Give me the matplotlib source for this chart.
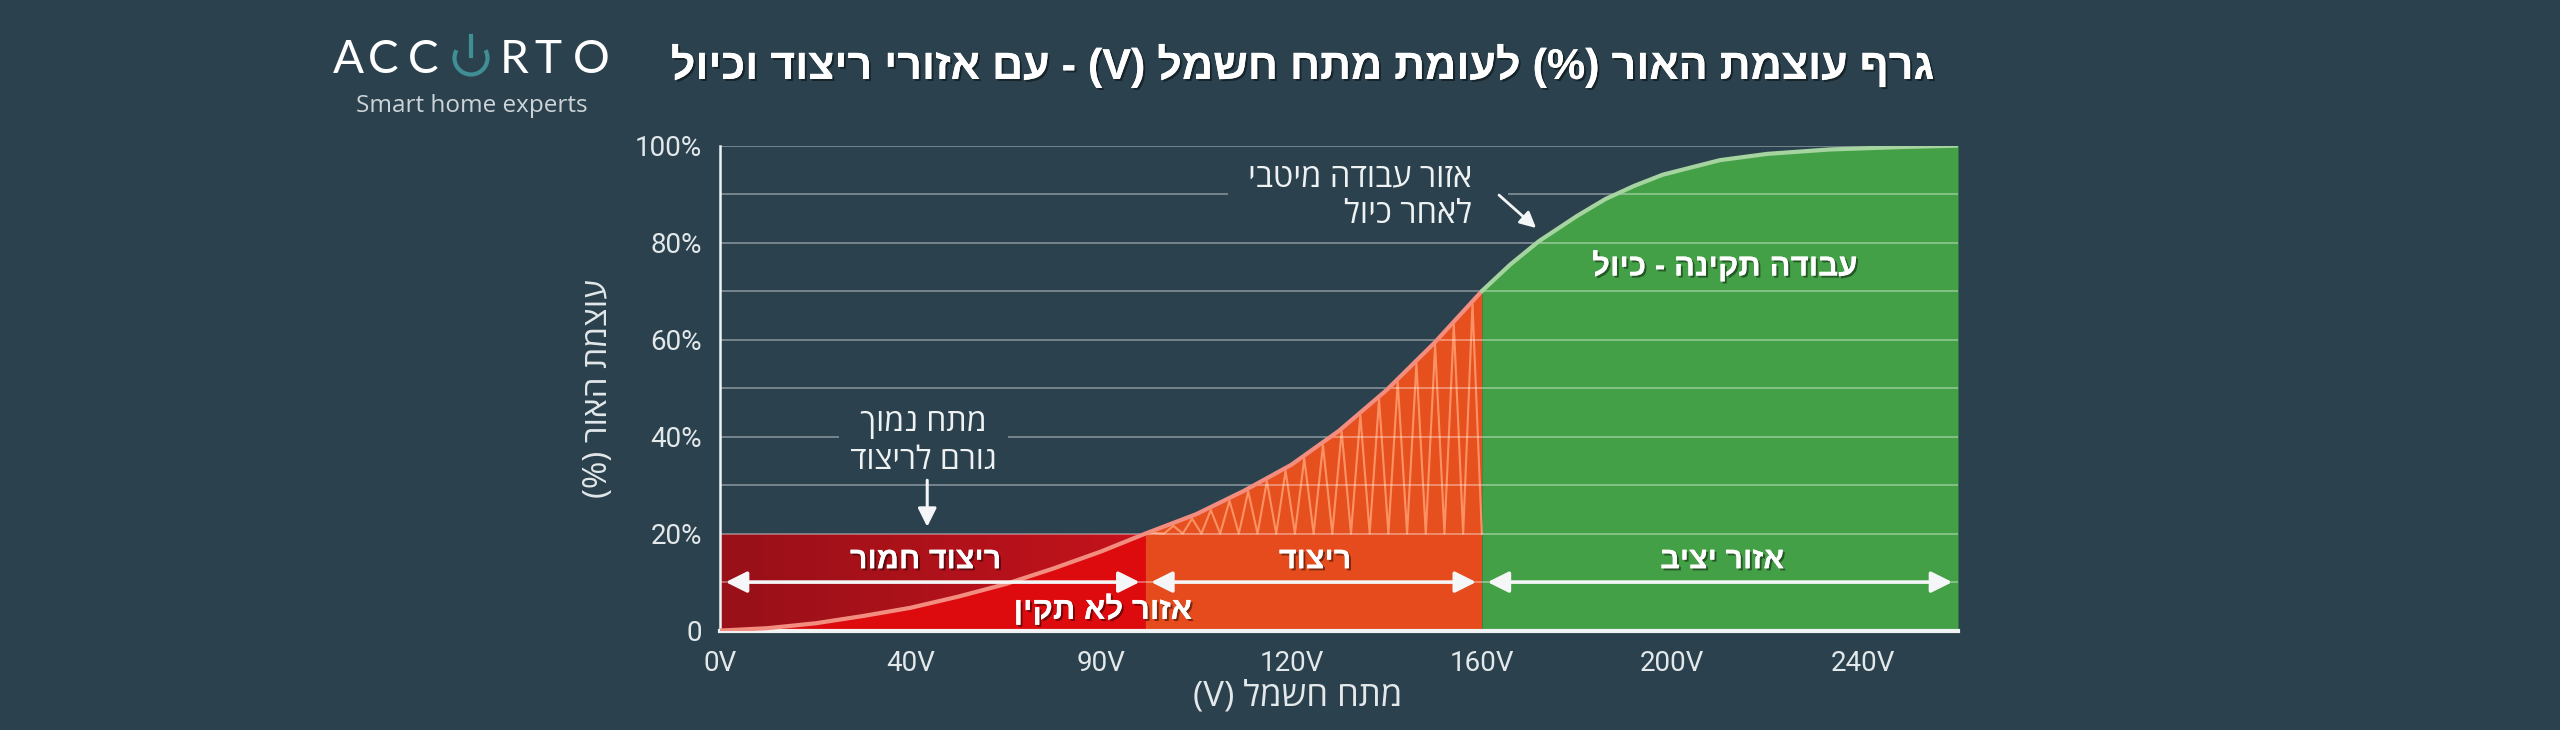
import re
import numpy as np
import matplotlib
matplotlib.use("Agg")
import matplotlib.pyplot as plt
from matplotlib import patheffects as pe
from matplotlib.patches import Arc
from matplotlib.lines import Line2D

# ---------------- data ----------------
TICK_VOLTS = [0, 40, 90, 120, 160, 200, 240]
TICK_LABELS = ["0V", "40V", "90V", "120V", "160V", "200V", "240V"]
X_MAX = 260
Y_TICKS = [0, 20, 40, 60, 80, 100]
Y_TICK_LABELS = ["0", "20%", "40%", "60%", "80%", "100%"]
Y_MINOR = [10, 30, 50, 70, 90]

ZONE_EDGES = [0, 97, 160, 260]          # red / orange / green boundaries (V)
ZONE_NAMES = ["ריצוד חמור", "ריצוד", "אזור יציב"]
ZONE_LABEL_X = [44, 125, 210.5]
FLICKER_LEVEL = 20                      # % – top of the flicker band

curve_volts = [0, 10, 20, 30, 40, 52.5, 65, 77.5, 90, 97, 105, 112.5, 120, 130,
               140, 150, 160, 166, 172, 180, 186, 192, 198, 210, 220, 233, 248, 260]
curve_pct = [0, 0.5, 1.5, 3.0, 4.7, 7.0, 9.6, 12.8, 16.3, 20, 24.0, 28.8, 34.2,
             41.2, 49.6, 59.3, 70, 75.5, 80.3, 85.5, 89, 91.7, 94, 97, 98.3,
             99.2, 99.7, 100]

TITLE = "גרף עוצמת האור (%) לעומת מתח חשמל (V) - עם אזורי ריצוד וכיול"
X_LABEL = "מתח חשמל (V)"
Y_LABEL = "עוצמת האור (%)"
BAD_ZONE = "אזור לא תקין"
CAL_LABEL = "עבודה תקינה - כיול"
NOTE_LOW = ["מתח נמוך", "גורם לריצוד"]
NOTE_OPT = ["אזור עבודה מיטבי", "לאחר כיול"]

# ---------------- helpers ----------------
def rtl(s):
    """visual (left-to-right) order for a Hebrew line"""
    r = s[::-1]
    r = re.sub(r"[A-Za-z0-9]+", lambda m: m.group(0)[::-1], r)
    return r.translate(str.maketrans("()", ")("))

scale_v = [-1000] + TICK_VOLTS + [1240]
scale_p = [-25] + list(range(len(TICK_VOLTS))) + [31]
def fwd(v):
    return np.interp(v, scale_v, scale_p)
def inv(p):
    return np.interp(p, scale_p, scale_v)

BG = "#2b424e"
HEB = ["Open Sans", "Liberation Sans", "DejaVu Sans"]
HEB_B = ["Liberation Sans", "DejaVu Sans"]
shadow = [pe.withSimplePatchShadow(offset=(1.5, -1.5), shadow_rgbFace="black", alpha=0.45), pe.Normal()]

plt.rcParams["font.family"] = ["Roboto", "DejaVu Sans"]

fig = plt.figure(figsize=(25.6, 7.3), dpi=100, facecolor=BG)
ax = fig.add_axes([720 / 2560, 1 - 630.6 / 730, 1238 / 2560, 485 / 730])
ax.set_facecolor(BG)
ax.set_xscale("function", functions=(fwd, inv))
ax.set_xlim(0, X_MAX)
ax.set_ylim(0, 100)

cv = np.array(curve_volts, float)
cp = np.array(curve_pct, float)

# ---- red zone: gradient band + brighter area under curve
r0, r1 = ZONE_EDGES[0], ZONE_EDGES[1]
p_edges = np.linspace(fwd(r0), fwd(r1), 41)
c_left = np.array(matplotlib.colors.to_rgb("#981018"))
c_right = np.array(matplotlib.colors.to_rgb("#c4121b"))
for i in range(len(p_edges) - 1):
    t = i / (len(p_edges) - 2)
    col = c_left * (1 - t) + c_right * t
    ax.fill_between(inv(p_edges[i:i + 2]), 0, FLICKER_LEVEL,
                    facecolor=col, edgecolor=col, lw=0.6, zorder=1)
m = cv <= r1
ax.fill_between(cv[m], 0, cp[m], color="#dd0b0e", lw=0, zorder=1.1)

# ---- orange zone
o0, o1 = ZONE_EDGES[1], ZONE_EDGES[2]
ax.fill_between([o0, o1], 0, FLICKER_LEVEL, color="#e54b1c", lw=0, zorder=1)
m = (cv >= o0) & (cv <= o1)
ax.fill_between(cv[m], FLICKER_LEVEL, cp[m], color="#e6501f", lw=0, zorder=1)

# flicker zig-zag texture inside the orange area
zp = np.linspace(fwd(o0), fwd(o1), 37)
ztop = np.interp(zp, fwd(cv), cp)
zy = np.where(np.arange(len(zp)) % 2 == 0, FLICKER_LEVEL, ztop - 0.6)
ax.plot(inv(zp), zy, color="#ff9a6c", lw=1.5, alpha=0.9, zorder=1.5)

# ---- green zone
g0, g1 = ZONE_EDGES[2], ZONE_EDGES[3]
m = cv >= g0
ax.fill_between(cv[m], 0, cp[m], color="#44a047", lw=0, zorder=1)

# ---- curve
m = cv <= g0
ax.plot(cv[m], cp[m], color="#f38d7f", lw=3.0, zorder=3, solid_capstyle="round")
m = cv >= g0
ax.plot(cv[m], cp[m], color="#a6d4a0", lw=3.0, zorder=3, solid_capstyle="round")

# ---- axes styling
ax.set_xticks(TICK_VOLTS)
ax.set_xticklabels(TICK_LABELS)
ax.set_xticks([], minor=True)
ax.set_yticks(Y_TICKS)
ax.set_yticklabels(Y_TICK_LABELS)
ax.set_yticks(Y_MINOR, minor=True)
ax.set_axisbelow(False)
ax.grid(axis="y", which="both", color="white", alpha=0.38, lw=1.3)
ax.tick_params(axis="both", which="both", length=0, colors="#e3e8ea", labelsize=20)
ax.tick_params(axis="x", pad=14)
ax.tick_params(axis="y", pad=13)
for s in ("top", "right"):
    ax.spines[s].set_visible(False)
ax.spines["left"].set_color("#eef2f3")
ax.spines["left"].set_linewidth(1.8)
ax.spines["bottom"].set_color("#eef2f3")
ax.spines["bottom"].set_linewidth(3.0)

ax.set_xlabel(rtl(X_LABEL), fontsize=25, color="#e3e8ea", family=HEB)
ax.xaxis.set_label_coords(0.467, -0.1)
ax.set_ylabel(rtl(Y_LABEL), fontsize=24, color="#e3e8ea", family=HEB)
ax.yaxis.set_label_coords(-0.085, 0.5)

# ---- zone arrows and labels
arrow_y = 10
label_y = 14.5
for a, b in zip(ZONE_EDGES[:-1], ZONE_EDGES[1:]):
    ax.annotate("", xy=(inv(fwd(b) - 0.03), arrow_y), xytext=(inv(fwd(a) + 0.03), arrow_y),
                arrowprops=dict(arrowstyle="<|-|>", color="#f4f6f7", lw=2.6,
                                mutation_scale=32, shrinkA=0, shrinkB=0), zorder=5)
for cx, name in zip(ZONE_LABEL_X, ZONE_NAMES):
    ax.text(cx, label_y, rtl(name), ha="center", va="center", fontsize=22,
            fontweight="bold", color="white", family=HEB_B, path_effects=shadow, zorder=6)

ax.text(90.3, 4.2, rtl(BAD_ZONE), ha="center", va="center", fontsize=22.5,
        fontweight="bold", color="white", family=HEB_B, path_effects=shadow, zorder=6)
ax.text(211, 75, rtl(CAL_LABEL), ha="center", va="center", fontsize=22.5,
        fontweight="bold", color="white", family=HEB_B, path_effects=shadow, zorder=6)

# ---- notes (boxes in background colour break the grid lines)
ax.text(43.4, 38.9, "\n".join(" " + rtl(s) + " " for s in NOTE_LOW), ha="center", va="center",
        fontsize=23, color="#eef2f3", family=HEB, linespacing=1.2, zorder=6,
        bbox=dict(boxstyle="square,pad=0.08", fc=BG, ec="none"))
ax.annotate("", xy=(44.4, 21.4), xytext=(44.4, 31),
            arrowprops=dict(arrowstyle="-|>", color="#f4f6f7", lw=2.2,
                            mutation_scale=28, shrinkA=0, shrinkB=0), zorder=6)

ax.text(165.0, 89.6, "\n".join("  " + rtl(s) + "    " for s in NOTE_OPT), ha="right", va="center",
        multialignment="right", fontsize=23.5, color="#eef2f3", family=HEB,
        linespacing=1.15, zorder=6,
        bbox=dict(boxstyle="square,pad=0.08", fc=BG, ec="none"))
ax.annotate("", xy=(171.4, 83), xytext=(163.6, 89.8),
            arrowprops=dict(arrowstyle="-|>", color="#f4f6f7", lw=2.0,
                            mutation_scale=24, shrinkA=0, shrinkB=0), zorder=7)

# ---- title
fig.text(1302 / 2560, 1 - 66 / 730, rtl(TITLE), ha="center", va="center", fontsize=31,
         fontweight="bold", color="white", family=HEB_B, path_effects=shadow)

# ---- logo
for ch, xc in zip("ACCRTO", [348, 383.5, 423.5, 514, 548, 591]):
    fig.text(xc / 2560, 1 - 73.3 / 730, ch, ha="center", va="baseline", fontsize=33,
             color="white", family=["Lato", "DejaVu Sans"], fontweight="normal")
teal = "#3f8f95"
fig.add_artist(Arc((471 / 2560, 1 - 58 / 730), 33 / 2560, 33 / 730, theta1=118, theta2=422,
                   transform=fig.transFigure, color=teal, lw=3.0))
fig.add_artist(Line2D([471 / 2560, 471 / 2560], [1 - 36 / 730, 1 - 56 / 730],
                      transform=fig.transFigure, color=teal, lw=3.0))
fig.text(472 / 2560, 1 - 111.7 / 730, "Smart home experts", ha="center", va="baseline",
         fontsize=17.5, color="#cdd5d9", family=["Open Sans", "DejaVu Sans"])

fig.savefig("out.png", dpi=100, facecolor=BG)
